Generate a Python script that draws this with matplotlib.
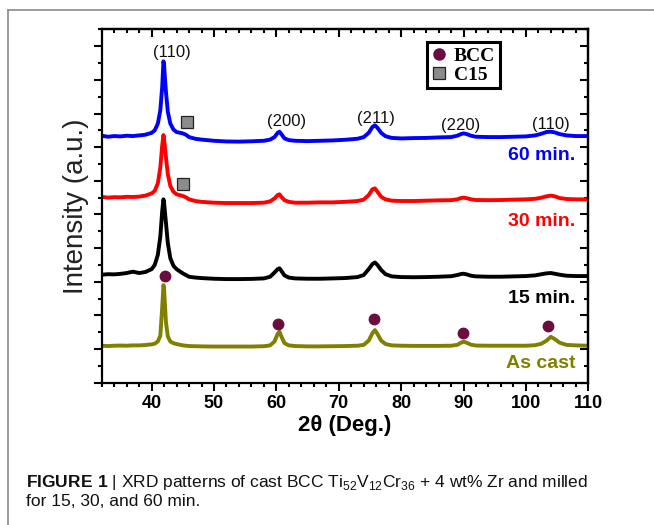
import numpy as np
import matplotlib
matplotlib.use("Agg")
import matplotlib.pyplot as plt
from matplotlib.lines import Line2D
from matplotlib.ticker import MultipleLocator

plt.rcParams['font.family'] = ['Liberation Sans', 'DejaVu Sans']
plt.rcParams['mathtext.fontset'] = 'custom'
plt.rcParams['mathtext.rm'] = 'Liberation Sans'
plt.rcParams['mathtext.bf'] = 'Liberation Sans:bold'

# 2theta grid (denser around the peaks)
two_theta = [32, 33, 34, 35, 36, 37, 38, 39, 40, 40.5, 41, 41.4, 41.7, 41.9, 42.0, 42.1, 42.3, 42.6,
             43, 43.5, 44, 45, 45.5, 46, 47, 48, 50, 52, 54, 56, 58, 59, 59.7, 60.2, 60.5, 60.8,
             61.3, 62, 63, 65, 67, 69, 71, 73, 74, 74.8, 75.4, 75.8, 76.2, 76.8, 77.5, 78.5, 80,
             82, 84, 86, 88, 89, 89.6, 90, 90.5, 91.2, 92, 94, 96, 98, 100, 101.5, 102.5, 103.3,
             104, 104.6, 105.4, 106.5, 108, 110]

# stacked intensities (a.u., offset already included)
int_60 = [14.68, 14.62, 14.66, 14.64, 14.68, 14.66, 14.70, 14.74, 14.85, 15.0, 15.4, 16.2, 17.6,
          19.1, 18.9, 18.3, 17.3, 16.1, 15.4, 15.05, 14.9, 14.82, 14.74, 14.6, 14.5, 14.45, 14.38,
          14.34, 14.33, 14.35, 14.38, 14.45, 14.6, 14.85, 14.92, 14.78, 14.52, 14.42, 14.38, 14.36,
          14.38, 14.40, 14.44, 14.5, 14.6, 14.85, 15.2, 15.3, 15.15, 14.85, 14.65, 14.55, 14.52,
          14.54, 14.55, 14.58, 14.6, 14.68, 14.78, 14.82, 14.78, 14.68, 14.62, 14.6, 14.6, 14.62,
          14.64, 14.7, 14.8, 14.9, 14.92, 14.88, 14.78, 14.7, 14.66, 14.66]
int_30 = [11.05, 11.0, 11.03, 11.02, 11.05, 11.04, 11.06, 11.12, 11.25, 11.4, 11.85, 12.8, 14.1,
          14.72, 14.5, 14.1, 13.4, 12.4, 11.7, 11.35, 11.2, 11.1, 11.02, 10.9, 10.8, 10.75, 10.7,
          10.68, 10.68, 10.68, 10.7, 10.78, 10.95, 11.15, 11.2, 11.05, 10.85, 10.75, 10.7, 10.7,
          10.72, 10.72, 10.75, 10.8, 10.88, 11.15, 11.5, 11.55, 11.35, 11.05, 10.9, 10.82, 10.8,
          10.8, 10.82, 10.84, 10.85, 10.9, 10.98, 11.0, 10.97, 10.9, 10.86, 10.85, 10.86, 10.88,
          10.9, 10.93, 11.0, 11.08, 11.12, 11.08, 10.98, 10.92, 10.9, 10.9]
int_15 = [6.42, 6.45, 6.44, 6.47, 6.52, 6.6, 6.52, 6.58, 6.75, 7.0, 7.6, 8.7, 10.2, 10.9, 10.7,
          10.3, 9.5, 8.3, 7.4, 6.95, 6.75, 6.5, 6.4, 6.3, 6.25, 6.22, 6.18, 6.16, 6.16, 6.17, 6.2,
          6.3, 6.55, 6.75, 6.8, 6.65, 6.38, 6.25, 6.2, 6.18, 6.18, 6.2, 6.22, 6.28, 6.4, 6.75, 7.05,
          7.15, 7.0, 6.7, 6.45, 6.32, 6.28, 6.27, 6.28, 6.3, 6.33, 6.4, 6.46, 6.48, 6.44, 6.36,
          6.32, 6.3, 6.3, 6.32, 6.34, 6.38, 6.45, 6.5, 6.52, 6.48, 6.42, 6.36, 6.34, 6.34]
int_cast = [2.2, 2.18, 2.2, 2.21, 2.2, 2.22, 2.22, 2.24, 2.28, 2.32, 2.45, 2.8, 4.5, 5.8, 5.6, 4.9,
            3.6, 2.75, 2.45, 2.35, 2.3, 2.22, 2.2, 2.18, 2.17, 2.16, 2.15, 2.15, 2.15, 2.15, 2.17,
            2.22, 2.45, 2.9, 3.03, 2.75, 2.35, 2.22, 2.18, 2.16, 2.16, 2.17, 2.18, 2.2, 2.25, 2.5,
            2.95, 3.13, 2.9, 2.5, 2.3, 2.22, 2.2, 2.19, 2.19, 2.19, 2.2, 2.25, 2.38, 2.44, 2.38,
            2.26, 2.21, 2.2, 2.2, 2.2, 2.2, 2.23, 2.32, 2.5, 2.73, 2.6, 2.38, 2.25, 2.22, 2.2]

series_labels = ['60 min.', '30 min.', '15 min.', 'As cast']
series_colors = ['#0000ff', '#ff0000', '#000000', '#808000']
label_y = [13.52, 9.57, 5.01, 1.15]

# phase markers
bcc_x = [42.2, 60.3, 75.7, 89.9, 103.6]
bcc_y = [6.34, 3.49, 3.77, 2.97, 3.39]
c15_x = [45.6, 45.1]
c15_y = [15.51, 11.79]

# miller indices above the 60 min pattern
hkl_text = ['(110)', '(200)', '(211)', '(220)', '(110)']
hkl_x = [43.2, 61.7, 76.0, 89.6, 104.0]
hkl_y = [19.6, 15.5, 15.7, 15.3, 15.37]

fig = plt.figure(figsize=(6.54, 5.25), dpi=100)
ax = fig.add_axes([0.1555, 0.271, 0.744, 0.673])

for yy, col in zip([int_60, int_30, int_15, int_cast], series_colors):
    ax.plot(two_theta, yy, color=col, lw=2.8, solid_joinstyle='round')

for lab, col, ly in zip(series_labels, series_colors, label_y):
    ax.text(107.9, ly, lab, color=col, fontsize=14, fontweight='bold', ha='right', va='center')

for t, hx, hy in zip(hkl_text, hkl_x, hkl_y):
    ax.text(hx, hy, t, fontsize=12, ha='center', va='center', color='#111111')

purple = '#6a0d3f'
ax.plot(bcc_x, bcc_y, 'o', color=purple, ms=7.5, ls='none', zorder=5)
ax.plot(c15_x, c15_y, 's', mfc='#8c8c8c', mec='#222222', mew=0.9, ms=8, ls='none', zorder=5)

ax.set_xlim(32, 110)
ax.set_ylim(0, 21)
ax.xaxis.set_major_locator(MultipleLocator(10))
ax.xaxis.set_minor_locator(MultipleLocator(2))
ax.yaxis.set_major_locator(MultipleLocator(2))
ax.yaxis.set_minor_locator(MultipleLocator(1))
ax.set_yticklabels([])
ax.tick_params(which='both', direction='out', width=1.5, top=False, right=False, labelsize=13, pad=3)
ax.tick_params(which='major', length=5.5)
ax.tick_params(which='minor', length=3.2)
for lab in ax.get_xticklabels():
    lab.set_fontweight('bold')
for s in ax.spines.values():
    s.set_linewidth(1.6)

# mirrored ticks pointing inward on top and right
top = ax.secondary_xaxis('top')
top.xaxis.set_major_locator(MultipleLocator(10))
top.xaxis.set_minor_locator(MultipleLocator(2))
top.tick_params(which='both', direction='in', width=1.5, labeltop=False)
top.tick_params(which='major', length=5.5)
top.tick_params(which='minor', length=3.2)
right = ax.secondary_yaxis('right')
right.yaxis.set_major_locator(MultipleLocator(2))
right.yaxis.set_minor_locator(MultipleLocator(1))
right.tick_params(which='both', direction='in', width=1.5, labelright=False)
right.tick_params(which='major', length=5.5)
right.tick_params(which='minor', length=3.2)
for sa in (top, right):
    for s in sa.spines.values():
        s.set_linewidth(1.6)

ax.text(-0.053, 0.5, 'Intensity (a.u.)', transform=ax.transAxes, rotation=90,
        ha='center', va='center', fontsize=20, color='#222222')
ax.text(0.5, -0.122, '2θ (Deg.)', transform=ax.transAxes, ha='center', va='center',
        fontsize=16, fontweight='bold')

handles = [Line2D([], [], marker='o', ls='none', color=purple, ms=8),
           Line2D([], [], marker='s', ls='none', mfc='#8c8c8c', mec='#222222', mew=0.9, ms=8.5)]
leg = ax.legend(handles, ['BCC', 'C15'], loc='upper left', bbox_to_anchor=(0.668, 0.963),
                frameon=True, fancybox=False, edgecolor='black', framealpha=1,
                prop={'family': 'Liberation Serif', 'weight': 'bold', 'size': 14},
                handlelength=0.8, handletextpad=0.35, borderpad=0.25, labelspacing=0.05,
                borderaxespad=0)
leg.get_frame().set_linewidth(2.2)

# caption
fig.text(0.04, 0.08, r'$\bf{FIGURE\ 1}$ | XRD patterns of cast BCC Ti$_{52}$V$_{12}$Cr$_{36}$ + 4 wt% Zr and milled',
         fontsize=12.5, va='center', ha='left', color='#111111')
fig.text(0.04, 0.044, 'for 15, 30, and 60 min.', fontsize=12.5, va='center', ha='left', color='#111111')

# outer frame (top and left edges)
fig.add_artist(Line2D([8 / 654, 1.0], [1 - 10 / 525, 1 - 10 / 525], transform=fig.transFigure,
                      color='#8a8a8a', lw=1.2))
fig.add_artist(Line2D([8 / 654, 8 / 654], [0, 1 - 10 / 525], transform=fig.transFigure,
                      color='#8a8a8a', lw=1.2))

fig.savefig('out.png', dpi=100)
